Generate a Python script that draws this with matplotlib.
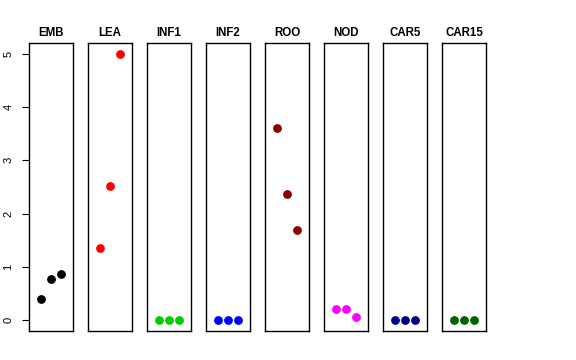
import numpy as np
import matplotlib.pyplot as plt

plt.rcParams['font.family'] = ['Liberation Sans', 'DejaVu Sans']

# Data
tissues = ['EMB', 'LEA', 'INF1', 'INF2', 'ROO', 'NOD', 'CAR5', 'CAR15']
colors = ['black', 'red', '#00CD00', 'blue', '#8B0000', 'magenta', '#00008B', '#006400']
x = [1, 2, 3]
values = {
    'EMB': [0.40, 0.78, 0.87],
    'LEA': [1.35, 2.51, 5.00],
    'INF1': [0.0, 0.0, 0.0],
    'INF2': [0.0, 0.0, 0.0],
    'ROO': [3.61, 2.36, 1.70],
    'NOD': [0.21, 0.21, 0.06],
    'CAR5': [0.0, 0.0, 0.0],
    'CAR15': [0.0, 0.0, 0.0],
}
yticks = [0, 1, 2, 3, 4, 5]

fig = plt.figure(figsize=(5.76, 3.6), dpi=100)

left0 = 28.7 / 576
width = 44.6 / 576
step = 59 / 576
bottom = 1 - 331 / 360
height = (331 - 43) / 360

for i, (name, col) in enumerate(zip(tissues, colors)):
    ax = fig.add_axes([left0 + i * step, bottom, width, height])
    ax.plot(x, values[name], 'o', color=col, ms=5.3, mec=col)
    ax.set_xlim(-0.16, 4.16)
    ax.set_ylim(-0.2, 5.2)
    ax.set_xticks([])
    ax.set_title(name, fontsize=8.3, fontweight='bold', pad=5)
    for s in ax.spines.values():
        s.set_linewidth(1)
    if i == 0:
        ax.set_yticks(yticks)
        ax.tick_params(axis='y', length=5, width=0.8, labelsize=8, pad=6)
        for lab in ax.get_yticklabels():
            lab.set_rotation(90)
            lab.set_va('center')
    else:
        ax.set_yticks([])

plt.savefig('out.png', dpi=100)
